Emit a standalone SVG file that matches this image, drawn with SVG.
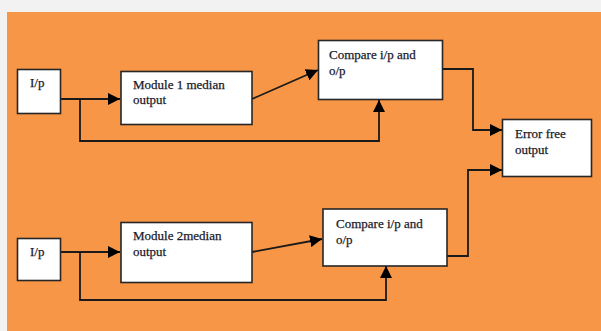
<svg xmlns="http://www.w3.org/2000/svg" width="601" height="331" viewBox="0 0 601 331">
<style>
.box{fill:#ffffff;stroke:#262626;stroke-width:1.6}
.lbl{font-family:"Liberation Serif","Times New Roman",serif;font-size:13px;fill:#1a1a2a;stroke:#1a1a2a;stroke-width:0.25}
.ln{fill:none;stroke:#1a1a1a;stroke-width:1.8}
</style>
<defs>
<marker id="ah" viewBox="0 0 12 12" refX="12" refY="6" markerWidth="12" markerHeight="12" markerUnits="userSpaceOnUse" orient="auto">
<path d="M0,0 L12,6 L0,12 Z" fill="#000"/>
</marker>
</defs>
<rect x="0" y="0" width="601" height="331" fill="#f2f2f2"/>
<rect x="7" y="12" width="594" height="319" fill="#f79646"/>
<g id="connectors">
<path class="ln" d="M60,99 H120" marker-end="url(#ah)"/>
<path class="ln" d="M80,99 V141 H379 V100" marker-end="url(#ah)"/>
<path class="ln" d="M252,99 L318,70" marker-end="url(#ah)"/>
<path class="ln" d="M442,69 H473 V130 H502" marker-end="url(#ah)"/>
<path class="ln" d="M60,252 H120" marker-end="url(#ah)"/>
<path class="ln" d="M80,252 V300 H386 V266" marker-end="url(#ah)"/>
<path class="ln" d="M252,252 L322,239" marker-end="url(#ah)"/>
<path class="ln" d="M447,256 H468 V170 H502" marker-end="url(#ah)"/>
</g>
<g id="ip1"><rect class="box" x="17.5" y="69.5" width="43" height="44"/><text class="lbl" x="30" y="87">I/p</text></g>
<g id="module1"><rect class="box" x="121" y="71.5" width="131" height="53"/><text class="lbl" x="133" y="89">Module 1 median</text><text class="lbl" x="133" y="104">output</text></g>
<g id="compare1"><rect class="box" x="318.5" y="40.5" width="124" height="59"/><text class="lbl" x="329" y="59">Compare i/p and</text><text class="lbl" x="329" y="75">o/p</text></g>
<g id="errorfree"><rect class="box" x="502.5" y="119.5" width="89" height="57"/><text class="lbl" x="515" y="138">Error free</text><text class="lbl" x="515" y="154">output</text></g>
<g id="ip2"><rect class="box" x="17.5" y="238.5" width="43" height="42"/><text class="lbl" x="30" y="256">I/p</text></g>
<g id="module2"><rect class="box" x="121" y="222.5" width="131" height="60"/><text class="lbl" x="133" y="240">Module 2median</text><text class="lbl" x="133" y="256">output</text></g>
<g id="compare2"><rect class="box" x="323" y="209" width="124" height="57"/><text class="lbl" x="336" y="228">Compare i/p and</text><text class="lbl" x="336" y="244">o/p</text></g>
</svg>
